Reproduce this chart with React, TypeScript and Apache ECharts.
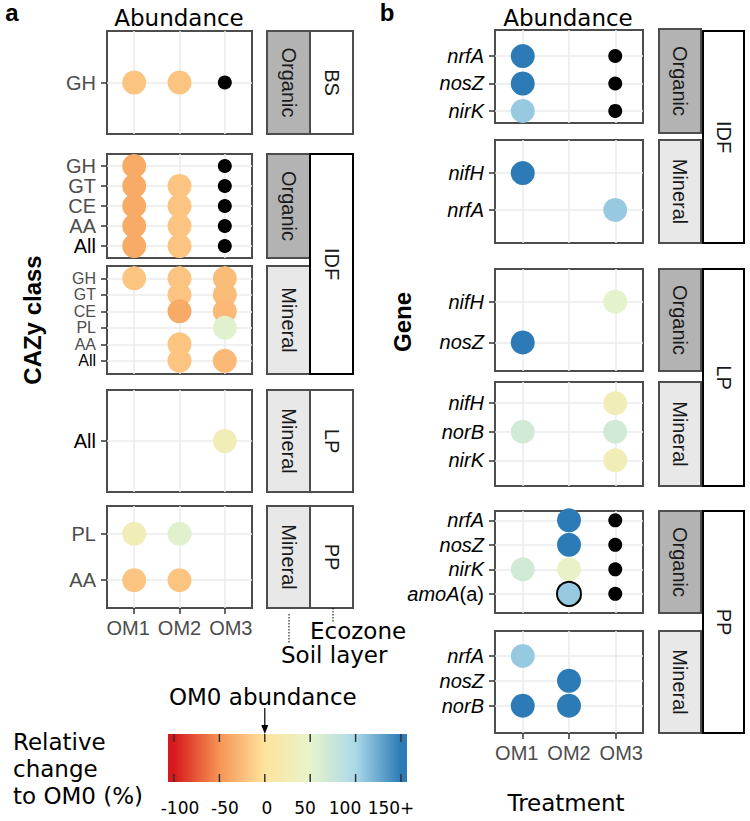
import React, { useEffect, useRef } from 'react';
import * as echarts from 'echarts';

// ---------------- DATA ----------------
const TREATMENTS = ['OM1', 'OM2', 'OM3'];
const ND = 'ND'; // black dot
type Cell = number | string | null;

// Panel a — CAZy class
const cazyBsOrganicRows = ['GH'];
const cazyBsOrganicVals: Cell[][] = [[-20, -20, ND]];
const cazyIdfOrganicRows = ['GH', 'GT', 'CE', 'AA', 'All'];
const cazyIdfOrganicVals: Cell[][] = [
  [-37, null, ND], [-37, -20, ND], [-37, -20, ND], [-37, -20, ND], [-37, -20, ND],
];
const cazyIdfMineralRows = ['GH', 'GT', 'CE', 'PL', 'AA', 'All'];
const cazyIdfMineralVals: Cell[][] = [
  [-20, -20, -25], [null, -20, -25], [null, -37, -27], [null, null, 55], [null, -20, null], [null, -20, -27],
];
const cazyLpMineralRows = ['All'];
const cazyLpMineralVals: Cell[][] = [[null, null, 28]];
const cazyPpMineralRows = ['PL', 'AA'];
const cazyPpMineralVals: Cell[][] = [[28, 55, null], [-20, -20, null]];

// Panel b — Gene
const geneIdfOrganicRows = ['nrfA', 'nosZ', 'nirK'];
const geneIdfOrganicVals: Cell[][] = [[150, null, ND], [150, null, ND], [108, null, ND]];
const geneIdfMineralRows = ['nifH', 'nrfA'];
const geneIdfMineralVals: Cell[][] = [[150, null, null], [null, null, 108]];
const geneLpOrganicRows = ['nifH', 'nosZ'];
const geneLpOrganicVals: Cell[][] = [[null, null, 52], [150, null, null]];
const geneLpMineralRows = ['nifH', 'norB', 'nirK'];
const geneLpMineralVals: Cell[][] = [[null, null, 28], [68, null, 68], [null, null, 28]];
const genePpOrganicRows = ['nrfA', 'nosZ', 'nirK', 'amoA(a)'];
const genePpOrganicVals: Cell[][] = [[null, 150, ND], [null, 150, ND], [68, 45, ND], [null, 108, ND]];
const genePpMineralRows = ['nrfA', 'nosZ', 'norB'];
const genePpMineralVals: Cell[][] = [[108, null, null], [null, 150, null], [150, 150, null]];
const outlinedCells = [{ panel: 'genePpOrganic', row: 'amoA(a)', treatment: 'OM2' }];

// Colour scale
const scaleValues = [-100, -50, 0, 50, 100, 150];
const scaleColors = ['#d7191c', '#f69555', '#fee49c', '#e7f4cb', '#abd9e9', '#2c7bb6'];
const scaleLabels = ['-100', '-50', '0', '50', '100', '150+'];

// ---------------- LAYOUT ----------------
const FONT = 'DejaVu Sans';
const AFONT = 'Liberation Sans';
const SIDES: any = {
  a: { left: 107, width: 145, soilX: 267, soilW: 43, ecoX: 310, ecoW: 43, italic: false },
  b: { left: 495, width: 148, soilX: 659, soilW: 42, ecoX: 703, ecoW: 41, italic: true },
};
const PANELS: any[] = [
  { id: 'cazyBsOrganic', side: 'a', rows: cazyBsOrganicRows, vals: cazyBsOrganicVals, top: 31, height: 103, yMin: -0.6, yMax: 0.6, soil: 'Organic' },
  { id: 'cazyIdfOrganic', side: 'a', rows: cazyIdfOrganicRows, vals: cazyIdfOrganicVals, top: 154, height: 104, yMin: -0.6, yMax: 4.6, soil: 'Organic' },
  { id: 'cazyIdfMineral', side: 'a', rows: cazyIdfMineralRows, vals: cazyIdfMineralVals, top: 266, height: 108, yMin: -0.75, yMax: 5.8, soil: 'Mineral', labelSize: 16 },
  { id: 'cazyLpMineral', side: 'a', rows: cazyLpMineralRows, vals: cazyLpMineralVals, top: 390, height: 102, yMin: -0.6, yMax: 0.6, soil: 'Mineral' },
  { id: 'cazyPpMineral', side: 'a', rows: cazyPpMineralRows, vals: cazyPpMineralVals, top: 506, height: 102, yMin: -0.6, yMax: 1.6, soil: 'Mineral', bottom: true },
  { id: 'geneIdfOrganic', side: 'b', rows: geneIdfOrganicRows, vals: geneIdfOrganicVals, top: 30, height: 93, yMin: -0.95, yMax: 2.44, soil: 'Organic', strip: [29, 133] },
  { id: 'geneIdfMineral', side: 'b', rows: geneIdfMineralRows, vals: geneIdfMineralVals, top: 140, height: 103, yMin: -0.9, yMax: 1.9, soil: 'Mineral' },
  { id: 'geneLpOrganic', side: 'b', rows: geneLpOrganicRows, vals: geneLpOrganicVals, top: 269, height: 102, yMin: -0.8, yMax: 1.7, soil: 'Organic' },
  { id: 'geneLpMineral', side: 'b', rows: geneLpMineralRows, vals: geneLpMineralVals, top: 382, height: 104, yMin: -0.74, yMax: 2.9, soil: 'Mineral' },
  { id: 'genePpOrganic', side: 'b', rows: genePpOrganicRows, vals: genePpOrganicVals, top: 511, height: 102, yMin: -0.38, yMax: 3.78, soil: 'Organic' },
  { id: 'genePpMineral', side: 'b', rows: genePpMineralRows, vals: genePpMineralVals, top: 631, height: 102, yMin: -1.0, yMax: 3.1, soil: 'Mineral', bottom: true },
];
const ECOZONES: any[] = [
  { side: 'a', label: 'BS', y0: 31, y1: 134, dark: false },
  { side: 'a', label: 'IDF', y0: 154, y1: 374, dark: true },
  { side: 'a', label: 'LP', y0: 390, y1: 492, dark: false },
  { side: 'a', label: 'PP', y0: 506, y1: 608, dark: false },
  { side: 'b', label: 'IDF', y0: 31, y1: 243, dark: true },
  { side: 'b', label: 'LP', y0: 269, y1: 486, dark: true },
  { side: 'b', label: 'PP', y0: 511, y1: 733, dark: true },
];
const BAR = { x: 168, y: 734, w: 239, h: 48, vMin: -106.6, vMax: 156.6 };
const LEGEND_LABEL_X = [180, 225, 267, 305, 345, 391];

function labelFormatter(rows: string[], italic: boolean) {
  return (v: number) => {
    const name = rows[Math.round(v)];
    if (name === undefined || Math.abs(v - Math.round(v)) > 1e-6) return '';
    if (italic) {
      const m = name.match(/^([^()]*)(\(.*\))?$/);
      const main = m ? m[1] : name;
      const rest = m && m[2] ? m[2] : '';
      return `{i|${main}}` + (rest ? `{n|${rest}}` : '');
    }
    return name === 'All' ? `{k|${name}}` : `{g|${name}}`;
  };
}

function stripRect(x: number, y0: number, w: number, y1: number, fill: string, stroke: string, label: string, textColor: string) {
  return [
    { type: 'rect', shape: { x, y: y0, width: w, height: y1 - y0 }, style: { fill, stroke, lineWidth: 2 }, z: 5 },
    {
      type: 'text', x: x + w / 2, y: (y0 + y1) / 2, rotation: -Math.PI / 2, z: 6,
      style: { text: label, fontSize: 20, fontFamily: AFONT, fill: textColor, align: 'center', verticalAlign: 'middle' },
    },
  ];
}

export default function App() {
  const ref = useRef<HTMLDivElement>(null);
  useEffect(() => {
    if (!ref.current) return;
    const chart = echarts.init(ref.current, null, { renderer: 'svg' });
    const grid: any[] = [];
    const xAxis: any[] = [];
    const yAxis: any[] = [];
    const series: any[] = [];
    const colouredIdx: number[] = [];
    const graphic: any[] = [];

    PANELS.forEach((p, gi) => {
      const s = SIDES[p.side];
      grid.push({ left: s.left, top: p.top, width: s.width, height: p.height, show: true, borderColor: '#4d4d4d', borderWidth: 2, backgroundColor: '#fff', outerBoundsMode: 'none' });
      const idx = TREATMENTS.map((_, i) => i);
      xAxis.push({
        type: 'value', gridIndex: gi, min: -0.6, max: 2.6, position: 'bottom',
        axisLine: { show: false, onZero: false },
        axisTick: { show: !!p.bottom, length: 6, customValues: idx, lineStyle: { color: '#333', width: 1.5 } },
        axisLabel: {
          show: !!p.bottom, customValues: idx, showMinLabel: true, showMaxLabel: true,
          formatter: (v: number) => {
            const i = Math.round(v);
            const n = TREATMENTS[i] ?? '';
            return i === 0 ? `{l|${n}}` : i === TREATMENTS.length - 1 ? `{r|${n}}` : `{m|${n}}`;
          },
          color: '#4d4d4d', fontSize: 20, fontFamily: AFONT, margin: 10,
          rich: {
            l: { color: '#4d4d4d', fontSize: 20, fontFamily: AFONT, padding: [0, 12, 0, 0] },
            m: { color: '#4d4d4d', fontSize: 20, fontFamily: AFONT },
            r: { color: '#4d4d4d', fontSize: 20, fontFamily: AFONT, padding: [0, 0, 0, 12] },
          },
        },
        splitLine: { show: true, lineStyle: { color: '#ebebeb', width: 1.5 } },
      });
      const ridx: number[] = p.rows.map((_: any, i: number) => i);
      const fs = p.labelSize || 20;
      const lh = Math.min(fs, 18);
      // two label axes (even / odd rows) so that closely packed labels are all kept
      [0, 1].forEach(parity => {
        const vals = ridx.filter(i => i % 2 === parity);
        yAxis.push({
          type: 'value', gridIndex: gi, min: p.yMin, max: p.yMax, inverse: true, position: 'left', offset: 0,
          show: vals.length > 0,
          axisLine: { show: false, onZero: false },
          axisTick: { show: true, length: 6, customValues: vals.length ? vals : [0], lineStyle: { color: '#333', width: 1.5 } },
          axisLabel: {
            customValues: vals.length ? vals : [0], showMinLabel: true, showMaxLabel: true, hideOverlap: false,
            formatter: labelFormatter(p.rows, s.italic), color: '#4d4d4d', fontSize: fs, fontFamily: AFONT, margin: 11,
            lineHeight: lh,
            rich: {
              g: { color: '#4d4d4d', fontSize: fs, fontFamily: AFONT, lineHeight: lh },
              k: { color: '#000', fontSize: fs, fontFamily: AFONT, lineHeight: lh },
              i: { color: '#000', fontSize: fs, fontFamily: AFONT, fontStyle: 'italic', lineHeight: lh },
              n: { color: '#000', fontSize: fs, fontFamily: AFONT, lineHeight: lh },
            },
          },
          splitLine: { show: true, lineStyle: { color: '#ebebeb', width: 1.5 } },
        });
      });
      const coloured: any[] = [];
      const black: any[] = [];
      p.vals.forEach((row: Cell[], r: number) => {
        row.forEach((v, t) => {
          if (v === null || v === undefined) return;
          if (v === ND) { black.push([t, r]); return; }
          const outlined = outlinedCells.some(c => c.panel === p.id && c.row === p.rows[r] && c.treatment === TREATMENTS[t]);
          coloured.push(outlined ? { value: [t, r, v], itemStyle: { borderColor: '#000', borderWidth: 2 } } : [t, r, v]);
        });
      });
      colouredIdx.push(series.length);
      series.push({ type: 'scatter', xAxisIndex: gi, yAxisIndex: 2 * gi, symbolSize: 24, itemStyle: { opacity: 1 }, data: coloured, z: 3 });
      series.push({ type: 'scatter', xAxisIndex: gi, yAxisIndex: 2 * gi, symbolSize: 14, itemStyle: { color: '#000', opacity: 1 }, data: black, z: 3 });

      // soil layer strip
      const y0 = p.strip ? p.strip[0] : p.top;
      const y1 = p.strip ? p.strip[1] : p.top + p.height;
      graphic.push(...stripRect(s.soilX, y0, s.soilW, y1, p.soil === 'Organic' ? '#b3b3b3' : '#e8e8e8', '#4d4d4d', p.soil, '#1a1a1a'));
    });

    ECOZONES.forEach(e => {
      const s = SIDES[e.side];
      graphic.push(...stripRect(s.ecoX, e.y0, s.ecoW, e.y1, '#ffffff', e.dark ? '#000' : '#4d4d4d', e.label, '#1a1a1a'));
    });

    const txt = (text: string, x: number, y: number, extra: any = {}) => ({
      type: 'text', x, y, z: 10,
      style: { text, fontFamily: FONT, fontSize: 23, fill: '#000', align: 'center', verticalAlign: 'middle', ...extra },
    });
    graphic.push(txt('a', 12, 12, { fontWeight: 'bold', fontFamily: AFONT, fontSize: 24 }));
    graphic.push(txt('b', 387, 12, { fontWeight: 'bold', fontFamily: AFONT, fontSize: 24 }));
    graphic.push(txt('Abundance', 179, 18));
    graphic.push(txt('Abundance', 568, 18));
    graphic.push({ ...txt('CAZy class', 32, 320, { fontWeight: 'bold', fontFamily: AFONT, fontSize: 24 }), rotation: Math.PI / 2 });
    graphic.push({ ...txt('Gene', 402, 322, { fontWeight: 'bold', fontFamily: AFONT, fontSize: 24 }), rotation: Math.PI / 2 });
    graphic.push(txt('Treatment', 566, 803));
    graphic.push(txt('Ecozone', 310, 631, { align: 'left' }));
    graphic.push(txt('Soil layer', 281, 655, { align: 'left' }));
    graphic.push({ type: 'line', z: 10, shape: { x1: 289, y1: 614, x2: 289, y2: 643 }, style: { stroke: '#000', lineWidth: 1, lineDash: [1.5, 1.5] } });
    graphic.push({ type: 'line', z: 10, shape: { x1: 333, y1: 608, x2: 333, y2: 622 }, style: { stroke: '#000', lineWidth: 1, lineDash: [1.5, 1.5] } });

    // colour bar
    const vx = (v: number) => BAR.x + (v - BAR.vMin) / (BAR.vMax - BAR.vMin) * BAR.w;
    const stops = [{ offset: 0, color: scaleColors[0] }]
      .concat(scaleValues.map((v, i) => ({ offset: (v - BAR.vMin) / (BAR.vMax - BAR.vMin), color: scaleColors[i] })))
      .concat([{ offset: 1, color: scaleColors[scaleColors.length - 1] }]);
    graphic.push({
      type: 'rect', z: 10, shape: { x: BAR.x, y: BAR.y, width: BAR.w, height: BAR.h },
      style: { fill: new echarts.graphic.LinearGradient(0, 0, 1, 0, stops) },
    });
    scaleValues.forEach((v, i) => {
      const x = vx(v);
      graphic.push({ type: 'line', z: 11, shape: { x1: x, y1: BAR.y, x2: x, y2: BAR.y + 8 }, style: { stroke: '#333', lineWidth: 1.5 } });
      graphic.push({ type: 'line', z: 11, shape: { x1: x, y1: BAR.y + BAR.h - 8, x2: x, y2: BAR.y + BAR.h }, style: { stroke: '#333', lineWidth: 1.5 } });
      graphic.push(txt(scaleLabels[i], LEGEND_LABEL_X[i], 808, { fontSize: 17 }));
    });
    const x0 = vx(0);
    graphic.push(txt('OM0 abundance', x0 - 2, 697));
    graphic.push({ type: 'line', z: 11, shape: { x1: x0, y1: 708, x2: x0, y2: 727 }, style: { stroke: '#000', lineWidth: 1.2 } });
    graphic.push({ type: 'polygon', z: 11, shape: { points: [[x0 - 3.5, 725], [x0 + 3.5, 725], [x0, 734]] }, style: { fill: '#000' } });
    graphic.push({ type: 'text', x: 13, y: 769, z: 10, style: { text: 'Relative\nchange\nto OM0 (%)', fontFamily: FONT, fontSize: 23, fill: '#000', align: 'left', verticalAlign: 'middle', lineHeight: 27 } });

    chart.setOption({
      animation: false,
      textStyle: { fontFamily: FONT },
      grid, xAxis, yAxis, series,
      visualMap: {
        type: 'continuous', show: false, min: scaleValues[0], max: scaleValues[scaleValues.length - 1],
        dimension: 2, seriesIndex: colouredIdx, inRange: { color: scaleColors },
      },
      graphic,
    });
    return () => chart.dispose();
  }, []);
  return <div ref={ref} style={{ position: 'fixed', left: 0, top: 0, width: 750, height: 821, background: '#fff' }} />;
}
